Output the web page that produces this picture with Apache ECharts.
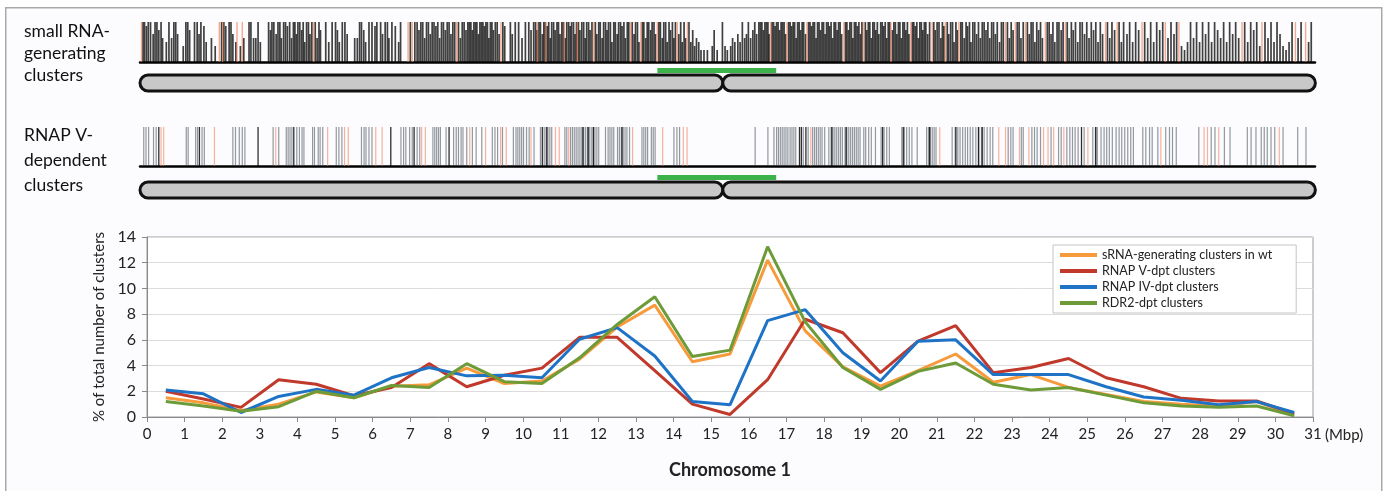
<!DOCTYPE html>
<html><head><meta charset="utf-8">
<script src="https://cdn.jsdelivr.net/npm/echarts@6/dist/echarts.min.js"></script>
<style>html,body{margin:0;padding:0;background:#fff}#c{width:1384px;height:491px}</style>
</head><body><div id="c"></div>
<script>
// ---- line chart data (bin centres in Mbp, % of clusters) ----
const binCentres = [0.5,1.5,2.5,3.5,4.5,5.5,6.5,7.5,8.5,9.5,10.5,11.5,12.5,13.5,14.5,15.5,16.5,17.5,18.5,19.5,20.5,21.5,22.5,23.5,24.5,25.5,26.5,27.5,28.5,29.5,30.5];
const srnaWt = [1.5,1.1,0.5,1.0,1.95,1.5,2.4,2.5,3.8,2.6,2.8,4.5,7.0,8.7,4.3,4.9,12.2,6.7,3.9,2.4,3.6,4.9,2.7,3.3,2.3,1.75,1.2,1.0,0.85,1.2,0.15];
const rnapV = [2.0,1.4,0.75,2.9,2.55,1.65,2.3,4.15,2.35,3.25,3.8,6.2,6.2,3.6,1.0,0.2,2.9,7.6,6.55,3.45,5.9,7.1,3.45,3.85,4.55,3.05,2.35,1.45,1.25,1.25,0.25];
const rnapIV = [2.1,1.8,0.35,1.6,2.15,1.7,3.05,3.85,3.2,3.25,3.05,6.05,6.95,4.75,1.2,0.95,7.5,8.35,5.0,2.8,5.9,6.0,3.3,3.3,3.3,2.35,1.55,1.3,0.95,1.2,0.35];
const rdr2 = [1.2,0.85,0.45,0.8,2.0,1.5,2.45,2.3,4.15,2.75,2.6,4.6,7.2,9.35,4.7,5.2,13.25,7.4,3.85,2.15,3.55,4.2,2.55,2.1,2.3,1.7,1.1,0.85,0.75,0.85,0.1];
const seriesNames = ['sRNA-generating clusters in wt','RNAP V-dpt clusters','RNAP IV-dpt clusters','RDR2-dpt clusters'];
const yTicks = [0,2,4,6,8,10,12,14];

// ---- chromosome features (Mbp) ----
const chromosomeArms = [[-0.2,15.3],[15.3,31.06]];
const pericentromere = [[13.56,16.72]];

// ---- small RNA-generating clusters: [position Mbp, relative height] ----
const srnaClusters = [
[-0.12,1],[-0.08,1],[-0.03,0.9],[0.02,1],[0.08,1],[0.15,0.7],[0.2,1],[0.25,1],[0.3,0.8],[0.36,1],[0.4,0.6],
[0.5,0.5],[0.57,1],[0.64,0.6],[0.7,1],[0.75,1],[0.8,0.7],[0.95,0.4],
[1.02,1],[1.07,1],[1.12,0.8],[1.25,1],[1.32,1],[1.37,0.7],[1.42,1],[1.5,0.9],[1.56,0.5],[1.7,0.6],[1.8,0.4],
[1.97,1],[2.03,1],[2.08,0.9],[2.17,1],[2.22,1],[2.27,0.7],[2.35,0.5],[2.47,0.4],[2.56,0.6],
[2.7,1],[2.75,1],[2.82,0.6],[2.88,0.6],[2.94,1],[3.0,0.5],
[3.22,1],[3.27,0.8],[3.31,1],[3.36,1],[3.42,0.7],[3.47,1],[3.52,1],[3.56,0.6],[3.62,1],[3.67,1],[3.72,0.9],[3.78,1],[3.83,0.6],[3.88,1],[3.92,1],[3.96,0.7],[4.0,1],[4.05,1],[4.1,0.8],[4.14,1],[4.18,0.5],[4.23,1],[4.28,1],[4.32,0.7],[4.37,1],[4.46,1],[4.51,0.6],[4.56,1],[4.6,0.8],
[4.74,1],[4.82,0.5],[4.91,1],[5.0,1],[5.05,0.8],[5.1,0.5],[5.18,1],[5.25,1],[5.31,0.7],[5.51,0.6],[5.58,0.6],
[5.64,1],[5.69,1],[5.75,0.8],[5.8,0.5],[5.89,1],[5.97,1],[6.05,0.9],
[6.1,1],[6.2,1],[6.25,0.7],[6.32,1],[6.38,1],[6.42,0.6],[6.5,1],[6.59,0.9],[6.68,0.5],[6.73,1],
[6.99,1],[7.11,1],
[7.17,1],[7.22,0.8],[7.27,1],[7.32,1],[7.37,0.6],[7.42,1],[7.47,1],[7.52,0.7],[7.57,1],[7.62,1],[7.67,0.9],[7.72,1],[7.77,0.6],[7.82,1],[7.87,1],[7.92,0.8],[7.97,1],[8.02,1],[8.07,0.7],[8.12,1],[8.17,1],[8.27,1],[8.32,0.6],[8.37,1],[8.42,1],[8.47,0.8],[8.52,1],
[8.56,1],[8.6,1],[8.64,0.8],[8.68,1],[8.72,1],[8.76,1],[8.8,0.7],[8.84,1],[8.88,1],[8.92,1],[8.96,0.9],[9.0,1],[9.04,1],[9.08,0.6],[9.12,1],[9.16,1],[9.2,0.8],[9.25,1],[9.3,1],[9.35,0.7],[9.45,1],[9.5,0.9],
[9.65,1],[9.7,0.7],[9.78,1],[9.87,1],[9.96,0.6],[10.05,1],[10.14,1],[10.2,0.8],[10.27,1],
[10.32,1],[10.36,0.8],[10.41,1],[10.45,1],[10.5,0.7],[10.54,1],[10.58,1],[10.63,0.9],[10.67,1],[10.71,0.6],[10.75,1],[10.8,1],[10.84,0.8],[10.89,1],[10.93,1],[10.97,0.7],[11.02,1],[11.06,1],[11.11,0.6],[11.15,1],[11.2,1],[11.24,0.9],[11.28,1],[11.33,1],[11.37,0.7],[11.41,1],[11.46,1],[11.5,0.8],[11.55,1],[11.6,1],[11.64,0.6],[11.68,1],[11.73,1],[11.77,0.8],[11.82,1],[11.91,1],[11.95,0.7],[12.0,1],[12.04,1],[12.09,0.6],[12.13,1],[12.18,1],[12.22,0.8],[12.26,1],[12.31,1],[12.35,0.5],[12.4,1],[12.44,1],[12.49,0.7],[12.53,1],[12.58,1],[12.62,0.9],[12.67,1],[12.71,0.6],[12.76,1],[12.8,1],[12.89,1],[12.94,0.7],[12.98,1],[13.03,1],[13.07,0.5],[13.16,1],[13.2,1],[13.25,0.6],[13.29,1],[13.33,1],[13.38,0.8],[13.42,1],[13.47,1],[13.51,0.7],[13.6,1],[13.64,1],[13.69,0.6],[13.73,1],[13.78,1],[13.82,0.5],[13.87,1],[13.91,0.8],[13.96,1],[14.0,0.6],[14.04,1],[14.13,0.7],[14.18,1],[14.22,0.5],[14.27,1],[14.31,0.6],[14.4,1],[14.45,0.5],[14.5,0.8],[14.55,0.4],[14.6,0.6],
[14.66,0.5],[14.72,0.3],[14.8,0.3],[14.89,0.3],[15.02,0.4],[15.07,0.8],[15.15,0.3],[15.29,1],[15.36,0.4],[15.42,0.3],[15.51,0.4],[15.56,0.6],[15.62,0.5],[15.7,0.7],[15.76,0.5],[15.82,1],[15.88,0.6],[15.93,0.7],[15.98,1],[16.04,0.6],[16.1,0.8],[16.15,1],[16.2,0.7],[16.26,1],
[16.3,1],[16.34,1],[16.38,0.8],[16.42,1],[16.46,1],[16.5,1],[16.53,0.7],[16.61,1],[16.65,1],[16.69,0.9],[16.73,1],[16.77,1],[16.81,0.8],[16.85,1],[16.89,1],[16.93,1],[16.97,0.7],[17.05,1],[17.09,1],[17.13,0.9],[17.17,1],[17.21,1],[17.25,0.6],[17.29,1],[17.33,1],[17.37,0.8],[17.41,1],[17.45,1],[17.5,0.7],[17.58,1],[17.62,1],[17.66,0.9],[17.7,1],[17.74,1],[17.78,0.6],[17.82,1],[17.86,1],[17.9,0.8],[17.94,1],[17.98,1],[18.02,0.7],[18.06,1],[18.1,1],[18.14,0.9],[18.18,1],[18.22,0.6],[18.26,1],[18.3,1],[18.34,0.8],[18.38,1],[18.42,1],[18.46,0.7],[18.56,1],[18.6,1],[18.64,0.8],[18.68,1],[18.72,1],[18.76,0.6],[18.8,1],[18.84,1],[18.88,0.9],[18.92,1],[18.96,0.7],[19.0,1],[19.09,1],[19.13,0.8],[19.17,1],[19.21,1],[19.25,0.6],[19.29,1],[19.33,1],[19.37,0.8],[19.41,1],[19.45,0.7],[19.5,1],[19.54,1],[19.58,0.9],[19.62,1],[19.66,0.6],[19.7,1],[19.74,1],[19.81,0.8],[19.85,1],[19.89,1],[19.93,0.7],[19.97,1],[20.01,1],[20.05,0.6],[20.09,1],[20.13,1],[20.17,0.8],[20.21,1],[20.25,0.7],[20.34,1],[20.38,1],[20.42,0.9],[20.46,1],[20.5,0.6],[20.54,1],[20.58,1],[20.62,0.8],[20.66,1],[20.7,1],[20.75,0.7],[20.8,1],
[20.91,1],[20.95,0.8],[21.0,1],[21.05,1],[21.1,0.6],[21.14,1],[21.18,0.9],[21.27,1],[21.31,0.7],[21.36,1],[21.41,1],[21.45,0.5],[21.5,1],[21.54,0.8],[21.63,1],[21.67,1],[21.72,0.6],[21.77,1],[21.81,0.9],[21.86,1],[21.9,0.5],[21.95,1],[22.0,1],[22.05,0.7],[22.1,1],[22.15,0.6],[22.2,1],[22.25,1],[22.3,0.8],[22.35,1],[22.4,0.6],[22.45,1],[22.5,1],[22.55,0.7],[22.6,1],[22.66,0.5],[22.71,1],[22.76,1],[22.87,1],[22.92,0.6],[22.97,1],[23.02,0.8],[23.13,1],[23.18,1],[23.23,0.6],[23.29,1],[23.4,1],[23.45,0.7],[23.5,1],[23.55,1],[23.6,0.5],[23.65,1],[23.7,0.8],[23.75,1],[23.8,0.6],[23.93,1],[23.98,1],[24.03,0.7],[24.08,1],[24.13,0.5],[24.19,1],[24.24,1],[24.3,0.8],[24.35,1],[24.46,1],[24.51,0.6],[24.57,1],[24.62,0.8],[24.68,1],[24.74,0.5],[24.8,1],[24.86,1],[24.92,0.7],[24.98,1],[25.04,0.6],[25.1,1],[25.16,0.8],[25.22,1],[25.28,0.5],[25.34,1],[25.4,0.7],[25.53,1],[25.59,0.6],[25.65,1],[25.72,0.8],[25.84,1],[25.9,0.5],[25.96,1],
[26.05,0.7],[26.12,1],[26.2,0.5],[26.28,1],[26.36,0.8],[26.52,1],[26.6,0.6],[26.68,1],[26.76,0.5],[26.84,1],[26.92,0.8],[27.0,1],[27.14,0.6],[27.22,1],[27.3,0.7],[27.37,1],[27.5,0.4],[27.58,0.3],[27.66,0.5],[27.74,1],[27.82,0.6],[27.9,1],[27.98,0.5],[28.06,1],[28.14,0.7],[28.22,1],[28.3,0.5],[28.38,1],[28.46,0.8],[28.54,0.6],[28.62,1],[28.7,0.5],[28.78,1],[28.86,0.7],[28.94,1],[29.02,0.6],[29.18,1],[29.26,0.5],[29.34,1],[29.42,0.8],[29.5,1],[29.58,0.4],[29.72,1],[29.8,0.6],[29.88,1],[29.96,0.5],[30.04,1],[30.12,0.7],[30.2,0.4],[30.28,0.3],[30.36,0.5],[30.44,1],[30.6,0.6],[30.68,1],[30.88,0.5],[30.95,1]
];
const srnaOrange = [-0.16,1.91,2.0,2.38,2.52,4.42,6.93,7.04,8.22,9.4,10.37,10.59,11.08,11.43,11.87,12.85,13.12,13.56,14.09,14.36,16.57,17.01,17.54,18.52,19.05,19.77,20.3,20.87,21.22,21.58,22.82,23.08,23.35,23.88,24.41,25.48,25.79,26.45,27.07,27.43,29.11,29.64,30.53,30.8];

// ---- RNAP V-dependent clusters (positions, Mbp) ----
const rnapVGrey = [-0.10,-0.04,0.03,0.16,0.23,1.03,1.08,1.28,1.33,1.45,1.51,2.27,2.34,2.44,2.52,2.59,3.34,3.49,3.69,3.74,3.79,3.84,3.97,4.04,4.11,4.16,4.39,4.44,4.54,4.59,4.66,5.02,5.09,5.17,5.69,5.76,5.81,5.89,5.97,6.74,6.81,6.87,6.97,7.04,7.17,7.24,7.59,7.64,7.69,7.74,7.79,7.94,8.14,8.21,8.27,8.34,8.39,8.49,8.64,8.74,8.89,9.17,9.24,9.31,9.44,9.73,9.80,9.85,9.90,9.95,10.0,10.08,10.15,10.28,10.45,10.55,10.60,10.65,10.70,10.75,11.10,11.15,11.25,11.30,11.35,11.40,11.45,11.50,11.55,11.60,11.65,11.70,11.75,11.80,11.85,11.90,11.95,12.0,12.18,12.25,12.30,12.35,12.40,12.50,12.55,12.60,12.65,12.70,12.75,12.82,13.15,13.20,13.25,13.30,13.40,13.45,13.50,14.0,14.08,14.15,
16.16,16.50,16.66,16.73,16.78,16.83,16.88,16.93,16.98,17.03,17.09,17.14,17.19,17.24,17.44,17.57,17.69,17.74,17.79,17.84,17.89,17.94,18.01,18.12,18.18,18.23,18.28,18.33,18.38,18.43,18.48,18.55,18.60,18.65,18.70,18.75,18.80,18.85,18.90,18.95,19.05,19.10,19.18,19.25,19.36,19.51,19.59,19.66,19.73,20.06,20.13,20.19,20.26,20.33,20.47,20.72,20.77,20.82,20.87,20.92,20.97,21.40,21.48,21.55,21.61,21.68,21.75,21.81,21.88,21.95,22.03,22.11,22.18,22.25,22.33,22.41,22.48,22.89,22.96,23.02,23.24,23.29,23.52,23.59,23.66,23.75,24.03,24.23,24.30,24.45,24.53,24.60,24.67,24.75,24.91,25.14,25.21,25.26,25.36,25.44,25.51,25.58,25.66,25.76,25.84,25.91,25.99,26.07,26.15,26.22,26.47,26.55,26.65,26.72,26.87,27.08,27.18,27.26,27.36,27.96,28.29,28.39,28.64,28.79,29.25,29.35,29.48,29.62,29.70,29.78,29.88,29.98,30.20,30.59,30.81];
const rnapVDark = [0.30,1.38,2.94,3.89,6.47,7.09,8.02,10.50,10.62,11.58,11.72,11.86,12.62,17.34,17.39,17.51,18.20,18.58,19.55,20.10,20.80,21.50,22.10,22.20,24.84,25.22];
const rnapVOrange = [0.36,0.43,1.78,3.41,4.79,5.24,5.34,6.07,6.24,7.29,7.39,8.57,8.99,9.39,9.54,10.2,10.85,10.95,11.20,12.90,13.70,14.25,14.35,17.64,21.07,22.64,22.82,23.19,23.44,23.83,23.95,24.10,24.37,25.01,26.95,28.10,28.19,28.49,30.10];

const COLORS = ['#f79a3c','#c0392b','#1f73c6','#6c9b38'];
const FONT = 'Lato';

function tickRender(color, width) {
  return function (params, api) {
    const x = api.value(0), h = api.value(1);
    const p0 = api.coord([x, 0]), p1 = api.coord([x, h]);
    return { type: 'line', shape: { x1: p0[0], y1: p0[1], x2: p1[0], y2: p1[1] },
             style: { stroke: color, lineWidth: width } };
  };
}
function armRender(params, api) {
  const a = api.coord([api.value(0), 9]), b = api.coord([api.value(1), 25]);
  return { type: 'rect', shape: { x: a[0], y: a[1], width: b[0] - a[0], height: b[1] - a[1], r: 8 },
           style: { fill: '#c8c8c8', stroke: '#111', lineWidth: 3 } };
}
function greenRender(params, api) {
  const a = api.coord([api.value(0), 2]), b = api.coord([api.value(1), 7]);
  return { type: 'rect', shape: { x: a[0], y: a[1], width: b[0] - a[0], height: b[1] - a[1] },
           style: { fill: '#3bb34a' } };
}

const trackX = (gi, showLine) => ({
  gridIndex: gi, type: 'value', min: -0.2, max: 31.05,
  axisLine: { show: showLine, lineStyle: { color: '#000', width: 2.5 } },
  axisTick: { show: false }, axisLabel: { show: false }, splitLine: { show: false }
});
const hiddenY = (gi, max, inv) => ({ gridIndex: gi, type: 'value', min: 0, max: max, inverse: inv, show: false, splitLine: { show: false } });

const chart = echarts.init(document.getElementById('c'));
chart.setOption({
  animation: false,
  backgroundColor: '#ffffff',
  textStyle: { fontFamily: FONT },
  graphic: [
    { type: 'rect', left: 5, top: 7, shape: { width: 1376, height: 492 }, z: -10,
      style: { fill: '#fcfcfe', stroke: '#a9a9a9', lineWidth: 1.5 } },
    { type: 'text', left: 24, top: 20, z: 10,
      style: { text: 'small RNA-\ngenerating\nclusters', font: '17.5px ' + FONT, lineHeight: 22, fill: '#111' } },
    { type: 'text', left: 24, top: 123, z: 10,
      style: { text: 'RNAP V-\ndependent\nclusters', font: '17.5px ' + FONT, lineHeight: 25, fill: '#111' } },
    { type: 'text', left: 1325, top: 428, z: 10,
      style: { text: '(Mbp)', font: '15px ' + FONT, fill: '#222' } }
  ],
  grid: [
    { left: 140, width: 1175, top: 22, height: 40 },
    { left: 140, width: 1175, top: 66, height: 27 },
    { left: 140, width: 1175, top: 127, height: 39 },
    { left: 140, width: 1175, top: 173, height: 27 },
    { left: 147, right: 71, top: 237, bottom: 74, show: true, borderColor: '#9a9a9a', borderWidth: 1, backgroundColor: '#ffffff' }
  ],
  xAxis: [
    trackX(0, true), trackX(1, false), trackX(2, true), trackX(3, false),
    { gridIndex: 4, type: 'value', min: 0, max: 31, interval: 1,
      axisLine: { lineStyle: { color: '#8a8a8a', width: 1 } },
      axisTick: { show: true, length: 5, lineStyle: { color: '#8a8a8a' } },
      axisLabel: { fontSize: 15, color: '#222', margin: 10, fontFamily: FONT },
      splitLine: { show: false },
      name: 'Chromosome 1', nameLocation: 'middle', nameGap: 44,
      nameTextStyle: { fontSize: 18, fontWeight: 'bold', color: '#222', fontFamily: FONT } }
  ],
  yAxis: [
    hiddenY(0, 1, false), hiddenY(1, 27, true), hiddenY(2, 1, false), hiddenY(3, 27, true),
    { gridIndex: 4, type: 'value', min: 0, max: 14, interval: 2,
      axisLine: { show: true, lineStyle: { color: '#8a8a8a' } },
      axisTick: { show: true, length: 5, lineStyle: { color: '#8a8a8a' } },
      axisLabel: { fontSize: 16, color: '#222', margin: 11, fontFamily: FONT,
                   formatter: v => yTicks.includes(v) ? String(v) : '' },
      splitLine: { show: true, lineStyle: { color: '#dcdcdc', width: 1 } },
      name: '% of total number of clusters', nameLocation: 'middle', nameGap: 38, nameRotate: 90,
      nameTextStyle: { fontSize: 15, color: '#222', fontFamily: FONT } }
  ],
  legend: {
    data: seriesNames, orient: 'vertical', left: 1053, top: 245,
    icon: 'rect', itemWidth: 37, itemHeight: 4, itemGap: 2,
    padding: [3, 24, 3, 7], backgroundColor: '#ffffff', borderColor: '#c4c4c4', borderWidth: 1,
    textStyle: { fontSize: 12.5, color: '#222', lineHeight: 14, fontFamily: FONT },
    selectedMode: false
  },
  series: [
    { type: 'custom', xAxisIndex: 0, yAxisIndex: 0, renderItem: tickRender('rgba(10,10,10,0.78)', 1.7),
      data: srnaClusters, silent: true, z: 2 },
    { type: 'custom', xAxisIndex: 0, yAxisIndex: 0, renderItem: tickRender('rgba(240,125,80,0.65)', 1.4),
      data: srnaOrange.map(p => [p, 1]), silent: true, z: 3 },
    { type: 'custom', xAxisIndex: 1, yAxisIndex: 1, renderItem: greenRender, data: pericentromere, silent: true },
    { type: 'custom', xAxisIndex: 1, yAxisIndex: 1, renderItem: armRender, data: chromosomeArms, silent: true },
    { type: 'custom', xAxisIndex: 2, yAxisIndex: 2, renderItem: tickRender('rgba(60,70,80,0.55)', 1.2),
      data: rnapVGrey.map(p => [p, 1]), silent: true, z: 2 },
    { type: 'custom', xAxisIndex: 2, yAxisIndex: 2, renderItem: tickRender('rgba(240,130,90,0.6)', 1.2),
      data: rnapVOrange.map(p => [p, 1]), silent: true, z: 3 },
    { type: 'custom', xAxisIndex: 2, yAxisIndex: 2, renderItem: tickRender('rgba(10,10,10,0.85)', 1.3),
      data: rnapVDark.map(p => [p, 1]), silent: true, z: 4 },
    { type: 'custom', xAxisIndex: 3, yAxisIndex: 3, renderItem: greenRender, data: pericentromere, silent: true },
    { type: 'custom', xAxisIndex: 3, yAxisIndex: 3, renderItem: armRender, data: chromosomeArms, silent: true },
    ...[srnaWt, rnapV, rnapIV, rdr2].map((vals, i) => ({
      name: seriesNames[i], type: 'line', xAxisIndex: 4, yAxisIndex: 4,
      data: binCentres.map((x, k) => [x, vals[k]]),
      symbol: 'none', showSymbol: false, color: COLORS[i],
      lineStyle: { width: 3, color: COLORS[i] }, itemStyle: { color: COLORS[i] },
      emphasis: { disabled: true }, silent: true, z: 5 + i
    }))
  ]
});
</script></body></html>
